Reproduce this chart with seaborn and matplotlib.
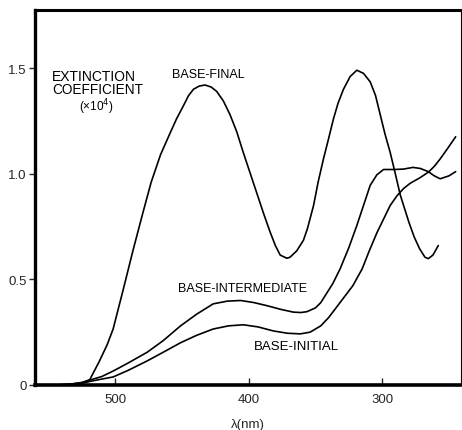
import numpy as np
import pandas as pd
import matplotlib
matplotlib.use("Agg")
import matplotlib.pyplot as plt
import seaborn as sns

# ---- data ----
final_wl = [545, 535, 525, 519, 512, 506, 501.5, 494, 486.5, 479, 473, 466, 459, 454,
            449, 445, 441.3, 437, 432.6, 428, 424, 419, 414, 409, 404, 399, 394, 389,
            384, 380, 376.4, 371.4, 369, 364, 359, 356, 351.4, 348, 344, 340, 336.5,
            333, 329, 324, 319, 314, 309, 305, 301.5, 298, 294, 290, 286.5, 283, 280,
            276, 272, 268, 265.5, 262, 258]
final_val = [0, 0.003, 0.01, 0.025, 0.11, 0.19, 0.265, 0.45, 0.64, 0.82, 0.96, 1.09, 1.19,
             1.26, 1.32, 1.37, 1.40, 1.415, 1.42, 1.41, 1.39, 1.345, 1.28, 1.20, 1.10,
             1.005, 0.91, 0.815, 0.725, 0.66, 0.615, 0.60, 0.605, 0.635, 0.685, 0.74,
             0.85, 0.96, 1.07, 1.17, 1.26, 1.335, 1.40, 1.46, 1.49, 1.475, 1.435, 1.37,
             1.28, 1.19, 1.10, 0.995, 0.90, 0.83, 0.77, 0.70, 0.645, 0.605, 0.598, 0.615,
             0.66]

inter_wl = [545, 535, 525, 518, 510, 501.5, 490, 476, 464, 451, 439, 426.6, 416, 406,
            396, 386, 376, 366.6, 361, 356.4, 350, 346, 342, 337, 331.5, 325, 319, 314,
            309, 304, 299, 291, 284, 277, 271.5, 265.5, 261, 256.6, 250, 245]
inter_val = [0, 0.003, 0.012, 0.025, 0.04, 0.066, 0.105, 0.155, 0.21, 0.28, 0.335, 0.384,
             0.397, 0.40, 0.39, 0.375, 0.358, 0.345, 0.343, 0.347, 0.365, 0.39, 0.43,
             0.48, 0.55, 0.65, 0.755, 0.85, 0.945, 0.995, 1.02, 1.02, 1.022, 1.03, 1.025,
             1.01, 0.99, 0.976, 0.99, 1.01]

init_wl = [545, 535, 525, 518, 510, 501.5, 490, 476, 464, 451, 439, 426.6, 415, 404, 393,
           381.6, 371, 361.4, 354, 346, 340, 334, 328, 322, 315, 310, 304, 299, 294,
           289, 284, 279, 272, 265.3, 261, 256.6, 251, 245]
init_val = [0, 0.002, 0.008, 0.018, 0.028, 0.038, 0.07, 0.114, 0.155, 0.20, 0.235, 0.265,
            0.28, 0.285, 0.275, 0.256, 0.245, 0.242, 0.25, 0.28, 0.32, 0.37, 0.42, 0.47,
            0.55, 0.63, 0.72, 0.785, 0.85, 0.895, 0.93, 0.955, 0.98, 1.008, 1.035, 1.07,
            1.12, 1.175]

yticks = [0, 0.5, 1.0, 1.5]
yticklabels = ["0", "0.5", "1.0", "1.5"]
xticks = [500, 400, 300]
xticklabels = ["500", "400", "300"]

df = pd.concat([
    pd.DataFrame({"wl": final_wl, "eps": final_val, "series": "BASE-FINAL"}),
    pd.DataFrame({"wl": inter_wl, "eps": inter_val, "series": "BASE-INTERMEDIATE"}),
    pd.DataFrame({"wl": init_wl, "eps": init_val, "series": "BASE-INITIAL"}),
])

sns.set_style("ticks")
plt.rcParams["font.family"] = ["Liberation Sans", "DejaVu Sans"]

fig = plt.figure(figsize=(4.62, 4.31), dpi=100)
ax = fig.add_axes([35 / 462, 1 - 386 / 431, 426 / 462, 375 / 431])

for name, sub in df.groupby("series", sort=False):
    sns.lineplot(data=sub, x="wl", y="eps", ax=ax, color="black", linewidth=1.2,
                 sort=False, estimator=None, legend=False)

ax.set_xlim(560, 241)
ax.set_ylim(0, 1.775)
ax.set_xticks(xticks)
ax.set_xticklabels(xticklabels)
ax.set_yticks(yticks)
ax.set_yticklabels(yticklabels)
ax.tick_params(axis="x", direction="in", length=5, width=1, labelsize=9.5, pad=6)
ax.tick_params(axis="y", direction="out", length=4, width=1, labelsize=9.5, pad=2)
ax.set_xlabel("λ(nm)", fontsize=9.5, labelpad=9)
ax.set_ylabel("")

for side, lw in [("left", 2.4), ("bottom", 2.6), ("top", 2.2), ("right", 0.8)]:
    ax.spines[side].set_visible(True)
    ax.spines[side].set_linewidth(lw)
    ax.spines[side].set_color("black")

txt = dict(ha="center", va="center", color="black")
ax.text(516, 1.462, "EXTINCTION", fontsize=10, **txt)
ax.text(513, 1.400, "COEFFICIENT", fontsize=9.8, **txt)
ax.text(514, 1.318, "(×10$^{4}$)", fontsize=8.5, **txt)
ax.text(430, 1.47, "BASE-FINAL", fontsize=9, **txt)
ax.text(404.5, 0.46, "BASE-INTERMEDIATE", fontsize=9, **txt)
ax.text(364.4, 0.185, "BASE-INITIAL", fontsize=9.5, **txt)

fig.savefig("out.png", dpi=100)
